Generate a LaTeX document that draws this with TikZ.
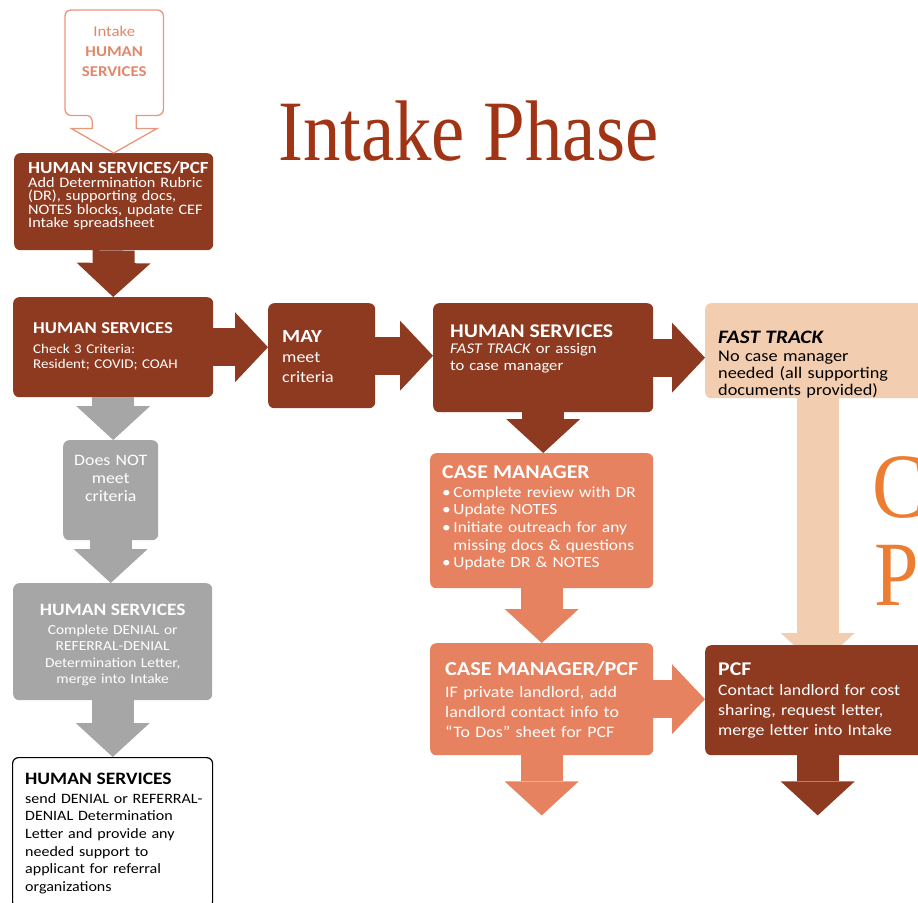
\documentclass[tikz,border=0pt]{standalone}
\usepackage{fontspec}
\setmainfont[FakeStretch=1.12]{Carlito}
\newfontfamily\phasefont[FakeStretch=0.87]{Liberation Serif}
\usetikzlibrary{arrows.meta,positioning,backgrounds}
\setlength{\lineskiplimit}{-100pt}

\definecolor{darkbrown}{RGB}{142,58,32}
\definecolor{salmon}{RGB}{230,130,96}
\definecolor{peach}{RGB}{242,205,175}
\definecolor{greyfill}{RGB}{166,166,166}
\definecolor{pinkline}{RGB}{234,150,125}
\definecolor{pinktext}{RGB}{226,136,106}
\definecolor{rust}{RGB}{160,52,20}
\definecolor{accent}{RGB}{237,125,49}

\newcommand{\boxhead}[2]{{\fontsize{#1}{#1}\selectfont\bfseries #2}}

\tikzstyle{box} = [rectangle, rounded corners=6pt, inner sep=0pt, anchor=north west]
\tikzstyle{txt} = [inner sep=0pt, align=left, text=white]
\tikzstyle{downflow} = [line width=42pt, -{Triangle[length=34pt, width=74pt, line width=0pt]}]
\tikzstyle{rightflow} = [line width=38pt, -{Triangle[length=33pt, width=70pt, line width=0pt]}]

\begin{document}
\begin{tikzpicture}[x=1pt, y=-1pt]
\useasboundingbox (0,0) rectangle (918,902);
\clip (0,0) rectangle (918,902);

% titles =============================
\node[anchor=base west, inner sep=0pt, text=rust, font=\phasefont\fontsize{86}{86}\selectfont] (phase) at (278,160) {Intake Phase};
\node[anchor=base west, inner sep=0pt, text=accent, font=\phasefont\fontsize{92}{92}\selectfont] (nextc) at (872,517) {C};
\node[anchor=base west, inner sep=0pt, text=accent, font=\phasefont\fontsize{92}{92}\selectfont] (nextp) at (874,605) {P};

% boxes =============================
\node[box, minimum width=98pt, minimum height=105pt] (intake) at (65,10) {};
\node[box, fill=darkbrown, minimum width=199pt, minimum height=97pt] (hs1) at (14,153) {};
\node[box, fill=darkbrown, minimum width=200pt, minimum height=100pt] (hs2) at (13,297) {};
\node[box, fill=darkbrown, minimum width=107pt, minimum height=105pt] (may) at (268,303) {};
\node[box, fill=darkbrown, minimum width=220pt, minimum height=109pt] (hs3) at (433,303) {};
\node[box, fill=peach, minimum width=225pt, minimum height=95pt] (ft) at (705,303) {};
\node[box, fill=salmon, minimum width=223pt, minimum height=135pt] (cm) at (430,453) {};
\node[box, fill=salmon, minimum width=223pt, minimum height=112pt] (cmpcf) at (430,643) {};
\node[box, fill=greyfill, minimum width=95pt, minimum height=100pt] (notmeet) at (63,440) {};
\node[box, fill=greyfill, minimum width=199pt, minimum height=117pt] (gdeny) at (13,583) {};
\node[box, draw=black, line width=1.2pt, fill=white, minimum width=200pt, minimum height=150pt] (wdeny) at (12,757) {};

% peach arrow runs under the PCF box
\path (ft.south |- 0,645) ++(0,22) coordinate (ftend);
\draw[downflow, peach] (ft.south) -- (ftend);
\node[box, fill=darkbrown, minimum width=225pt, minimum height=110pt] (pcf) at (705,645) {};

% intake callout
\draw[pinkline, line width=1.3pt, fill=white] ([xshift=-22pt]intake.south) -- ++(0,13) -- ++(-21,0) -- (hs1.north) -- ([xshift=43pt,yshift=-13pt]intake.south) -- ++(-21,0) -- ([xshift=22pt]intake.south) [rounded corners=6pt] -- (intake.south east) -- (intake.north east) -- (intake.north west) -- (intake.south west) -- cycle;

% texts =============================
\node[txt, text width=98pt, align=center, text=pinktext, font=\fontsize{15}{20}\selectfont, below=26pt of intake.north, anchor=base] (intaket) {Intake\\\textbf{HUMAN}\\\textbf{SERVICES}};

\node[txt, text width=185pt, font=\fontsize{14.5}{13.2}\selectfont, below right=20pt and 14pt of hs1.north west, anchor=base west] (hs1t) {\boxhead{17}{HUMAN SERVICES/PCF}\\[1.5pt]Add Determination Rubric\\(DR), supporting docs,\\NOTES blocks, update CEF\\Intake spreadsheet};

\node[txt, text width=180pt, font=\fontsize{13.4}{15}\selectfont, below right=36pt and 20pt of hs2.north west, anchor=base west] (hs2t) {\boxhead{16.6}{HUMAN SERVICES}\\[5pt]Check 3 Criteria:\\Resident; COVID; COAH};

\node[txt, text width=93pt, font=\fontsize{16}{20}\selectfont, below right=39pt and 14pt of may.north west, anchor=base west] (mayt) {\boxhead{18.5}{MAY}\\meet\\criteria};

\node[txt, text width=203pt, font=\fontsize{14.8}{17}\selectfont, below right=34pt and 17pt of hs3.north west, anchor=base west] (hs3t) {\boxhead{19.4}{HUMAN SERVICES}\\[-1pt]\textit{FAST TRACK} or assign\\to case manager};

\node[txt, text=black, text width=212pt, font=\fontsize{16.3}{17}\selectfont, below right=40pt and 13pt of ft.north west, anchor=base west] (ftt) {{\fontsize{19}{19}\selectfont\bfseries\itshape FAST TRACK}\\[1pt]No case manager\\needed (all supporting\\documents provided)};

\node[txt, text width=211pt, font=\fontsize{15.5}{17.7}\selectfont, below right=25pt and 12pt of cm.north west, anchor=base west] (cmt) {\boxhead{19.5}{CASE MANAGER}\\[1.3pt]•\,Complete review with DR\\•\,Update NOTES\\•\,Initiate outreach for any\\\phantom{•\,}missing docs \& questions\\•\,Update DR \& NOTES};

\node[txt, text width=208pt, font=\fontsize{16}{20}\selectfont, below right=32pt and 15pt of cmpcf.north west, anchor=base west] (cmpcft) {\boxhead{19.8}{CASE MANAGER/PCF}\\[2pt]IF private landlord, add\\landlord contact info to\\“To Dos” sheet for PCF};

\node[txt, text width=212pt, font=\fontsize{15.9}{20}\selectfont, below right=30pt and 13pt of pcf.north west, anchor=base west] (pcft) {\boxhead{19.4}{PCF}\\Contact landlord for cost\\sharing, request letter,\\merge letter into Intake};

\node[txt, text width=95pt, align=center, font=\fontsize{15.9}{18}\selectfont, below=25pt of notmeet.north, anchor=base] (notmeett) {Does NOT\\meet\\criteria};

\node[txt, text width=199pt, align=center, font=\fontsize{13.8}{16.5}\selectfont, below=32pt of gdeny.north, anchor=base] (gdenyt) {\boxhead{17.3}{HUMAN SERVICES}\\[2.5pt]Complete DENIAL or\\REFERRAL-DENIAL\\Determination Letter,\\merge into Intake};

\node[txt, text=black, text width=187pt, font=\fontsize{14.3}{17.7}\selectfont, below right=27pt and 13pt of wdeny.north west, anchor=base west] (wdenyt) {\boxhead{17.4}{HUMAN SERVICES}\\[1.3pt]send DENIAL or REFERRAL-\\DENIAL Determination\\Letter and provide any\\needed support to\\applicant for referral\\organizations};

% edges =============================
\path (cmpcf.south) ++(0,60) coordinate (cmend);
\path (pcf.south) ++(0,60) coordinate (pcfend);

\draw[downflow, darkbrown] (hs1.south) -- (hs2.north);
\draw[downflow, greyfill] (hs2.south) -- (hs2.south |- notmeet.north);
\draw[downflow, greyfill] (notmeet.south) -- (notmeet.south |- gdeny.north);
\draw[downflow, greyfill] (gdeny.south) -- (gdeny.south |- wdeny.north);
\draw[rightflow, darkbrown] (hs2.east) -- (hs2.east -| may.west);
\draw[rightflow, darkbrown] (may.east) -- (may.east -| hs3.west);
\draw[rightflow, darkbrown] (hs3.east) -- (hs3.east -| ft.west);
\draw[downflow, darkbrown] (hs3.south) -- (hs3.south |- cm.north);
\draw[downflow, salmon] (cm.south) -- (cm.south |- cmpcf.north);
\draw[downflow, salmon] (cmpcf.south) -- (cmend);
\draw[rightflow, salmon] (cmpcf.east) -- (cmpcf.east -| pcf.west);
\draw[downflow, darkbrown] (pcf.south) -- (pcfend);

\end{tikzpicture}
\end{document}
